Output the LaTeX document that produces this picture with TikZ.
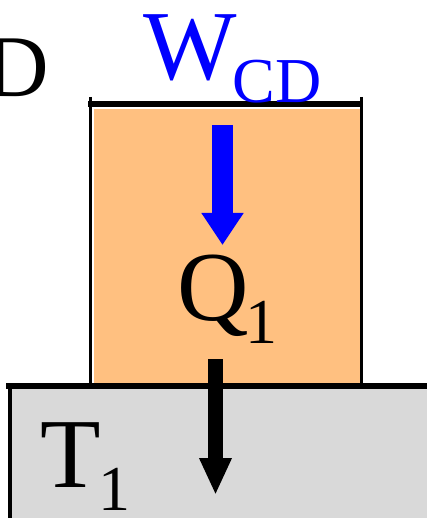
\documentclass[tikz,border=0pt]{standalone}
\usepackage{fontspec}
\setmainfont{Liberation Serif}
\usepackage{xcolor}
\usetikzlibrary{arrows.meta}
\definecolor{boxorange}{RGB}{255,192,128}
\definecolor{floorgray}{RGB}{217,217,217}
\newcommand{\bigtext}{\fontsize{99}{99}\selectfont}
\newcommand{\lowsub}[1]{\raisebox{-23pt}{\fontsize{64}{64}\selectfont #1}}

\begin{document}
\begin{tikzpicture}[x=1pt,y=-1pt,
  lbl/.style={anchor=base west,inner sep=0pt},
  wall/.style={draw=black,line cap=butt}]
\useasboundingbox (0,0) rectangle (427,518);
\fill[floorgray](10,388) rectangle (427,518);
\fill[boxorange](94,109) rectangle (360,384);
\draw[wall,line width=6](88,104)--(363,104);
\draw[wall,line width=3.5](90.5,97)--(90.5,384);
\draw[wall,line width=2.5](361.5,97)--(361.5,384);
\draw[wall,line width=5.5](6,386)--(427,386);
\draw[wall,line width=4](9.5,386)--(9.5,518);
\coordinate (wtop) at (222.5,125);
\coordinate (wtip) at (222.5,245);
\coordinate (qtop) at (215.5,359);
\coordinate (qtip) at (215.5,495);
\draw[blue,line width=21,-{Triangle[length=32pt,width=40pt]}](wtop)--(wtip);
\draw[black,line width=15,-{Triangle[length=37pt,width=30pt]}](qtop)--(qtip);
\node[lbl] (cd) at (-15,97) {\fontsize{88}{88}\selectfont D};
\node[lbl,blue] (wcd) at (143,80) {\bigtext W\kern-4pt\lowsub{CD}};
\node[lbl] (q1) at (177,320) {\bigtext Q\kern-3pt\lowsub{1}};
\node[lbl] (t1) at (40,487) {\bigtext T\kern-2pt\lowsub{1}};
\end{tikzpicture}
\end{document}
